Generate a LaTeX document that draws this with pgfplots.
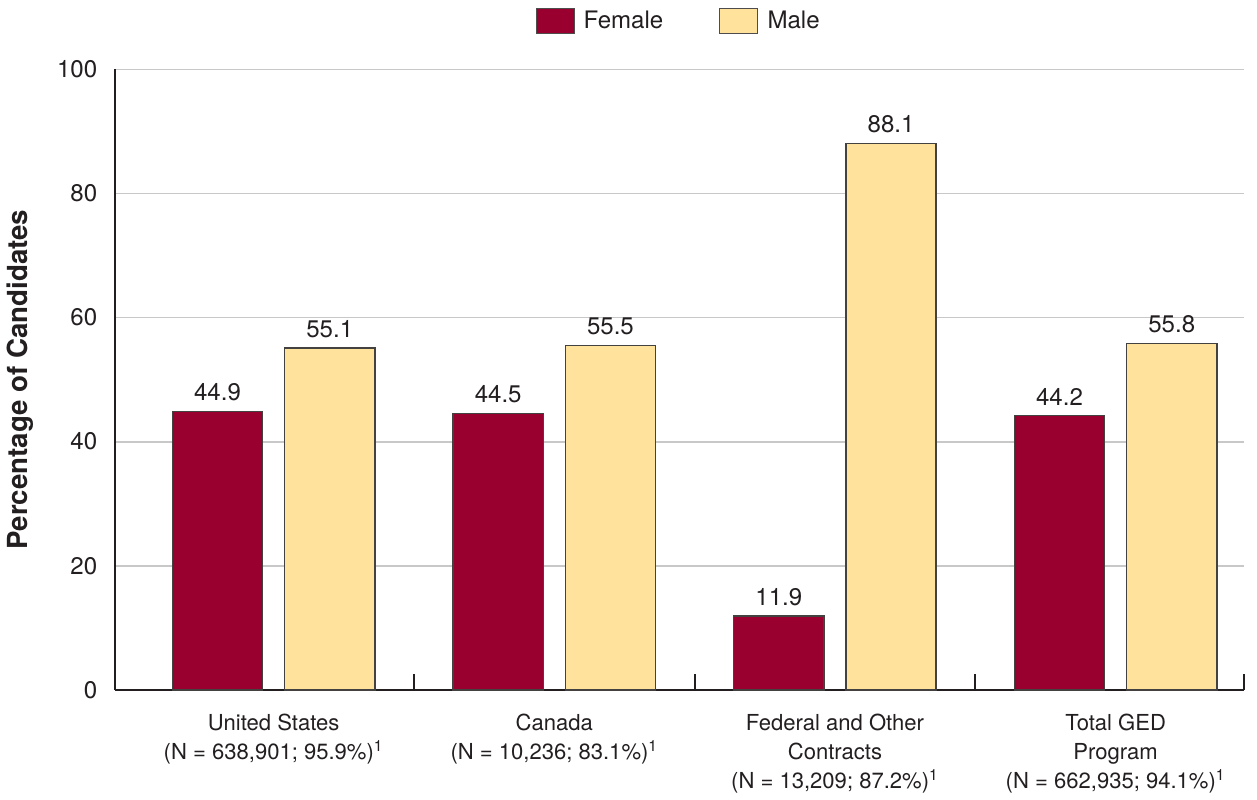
\documentclass[border=0pt]{standalone}
\usepackage{pgfplots}
\pgfplotsset{compat=1.18}
\usepackage{fontspec}
\setmainfont{TeX Gyre Heros}
\definecolor{female}{HTML}{990030}
\definecolor{male}{HTML}{FFE39C}
\definecolor{ink}{HTML}{231F20}
\definecolor{gridgray}{HTML}{C8C8C8}
\begin{document}
\begin{tikzpicture}[font=\fontsize{12}{14}\selectfont, color=ink]
\begin{axis}[
  scale only axis,
  width=563pt, height=309.5pt,
  ybar=11pt, bar width=45pt,
  xmin=-0.564, xmax=3.457,
  ymin=0, ymax=100,
  xtick={0,1,2,3},
  xticklabels={
    {United States\\(N = 638,901; 95.9\%)\textsuperscript{1}},
    {Canada\\(N = 10,236; 83.1\%)\textsuperscript{1}},
    {Federal and Other\\Contracts\\(N = 13,209; 87.2\%)\textsuperscript{1}},
    {Total GED\\Program\\(N = 662,935; 94.1\%)\textsuperscript{1}}},
  xticklabel style={align=center, text=ink, font=\fontsize{11}{14.5}\selectfont, yshift=-8.5pt},
  major tick length=0pt,
  minor xtick={0.5,1.5,2.5,3.457},
  minor tick length=8pt,
  tick align=inside,
  minor x tick style={draw=ink, line width=0.9pt},
  ytick={0,20,40,60,80,100},
  yticklabel style={text=ink, font=\fontsize{12}{14}\selectfont, xshift=-5.5pt},
  /pgf/number format/assume math mode=true,
  ymajorgrids,
  grid style={gridgray, line width=0.9pt},
  axis x line*=bottom, axis y line*=left,
  x axis line style={ink, line width=1.1pt, -},
  y axis line style={ink, line width=0.9pt, -},
  ylabel={\textbf{Percentage of Candidates}},
  ylabel style={text=ink, font=\fontsize{13.8}{16}\selectfont},
  ylabel shift=5pt,
  nodes near coords,
  nodes near coords style={text=ink, font=\fontsize{12}{14}\selectfont, yshift=1.5pt},
  every node near coord/.append style={/pgf/number format/.cd, fixed, fixed zerofill, precision=1},
  legend columns=2,
  legend style={at={(0.5,1)}, anchor=center, yshift=24pt, draw=none, fill=none,
    /tikz/every even column/.append style={column sep=26pt}, text=ink, font=\fontsize{12}{14}\selectfont},
  legend image code/.code={\draw[#1, draw=ink!80, line width=0.5pt] (0pt,-6.2pt) rectangle (19pt,6.2pt);},
  clip=false,
]
\addplot[fill=female, draw=ink!85, line width=0.7pt] coordinates {(0,44.9) (1,44.5) (2,11.9) (3,44.2)};
\addplot[fill=male, draw=ink!85, line width=0.7pt] coordinates {(0,55.1) (1,55.5) (2,88.1) (3,55.8)};
\legend{\hspace{2.5pt}Female, \hspace{2.5pt}Male}
\end{axis}
% keep small margins above and to the right of the picture
\path (current bounding box.north east) ++(6pt,1.5pt);
\end{tikzpicture}
\end{document}
